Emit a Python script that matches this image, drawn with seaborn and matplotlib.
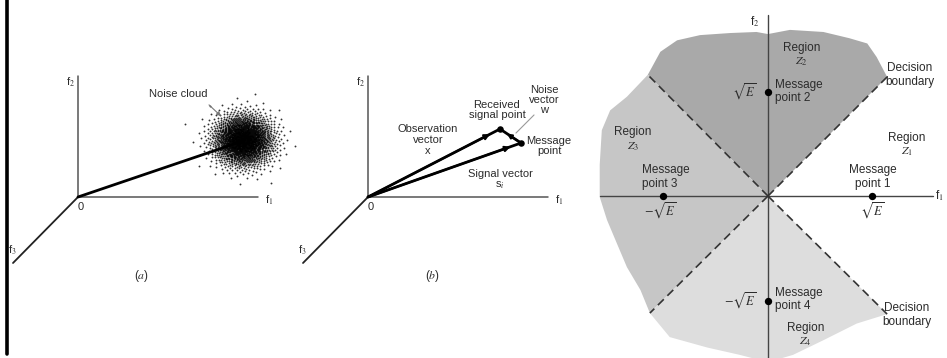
import numpy as np
import pandas as pd
import seaborn as sns
import matplotlib.pyplot as plt
from matplotlib.patches import Polygon

sns.set_style('white')
plt.rcParams['font.family'] = ['Liberation Sans', 'DejaVu Sans']
plt.rcParams['mathtext.fontset'] = 'stix'

TXT = '#2b2b2b'
AXC = '#555555'

# ---------------- panels (a) and (b): pixel coordinates ----------------
origin_a = (78, 197)
origin_b = (368, 197)
f1_len = 180          # length of f1 axis
f2_top = 76           # top of f2 axis
f3_end = (-65, 66)    # offset of f3 axis end from origin

cloud_center = (243, 140)
cloud_spread = (15, 13)
cloud_n = 2000

received_pt = (500, 129)
message_pt = (521, 143)

# ---------------- right panel: units of sqrt(E) ----------------
msg_u = [1, 0, -1, 0]
msg_v = [0, 1, 0, -1]

# ends of the dashed decision boundaries
bnd_u = [1.14, -1.15, -1.13, 1.14]
bnd_v = [1.14, 1.16, -1.12, -1.13]

# outline of the shaded area
top_u = [-1.15, -1.03, -0.87, -0.65, -0.36, -0.11, 0.0, 0.21, 0.53, 0.78, 0.95, 1.04, 1.14]
top_v = [1.16, 1.38, 1.49, 1.54, 1.56, 1.57, 1.55, 1.59, 1.57, 1.51, 1.46, 1.33, 1.14]
left_u = [-1.15, -1.35, -1.51, -1.59, -1.61, -1.61, -1.54, -1.46, -1.35, -1.22, -1.13]
left_v = [1.16, 0.95, 0.82, 0.63, 0.30, -0.01, -0.23, -0.42, -0.68, -0.90, -1.12]
bot_u = [-1.13, -0.94, -0.58, -0.27, 0.0, 0.24, 0.53, 0.85, 1.14]
bot_v = [-1.12, -1.35, -1.45, -1.52, -1.59, -1.52, -1.38, -1.22, -1.13]

region_colors = {'Z2': '#a9a9a9', 'Z3': '#c6c6c6', 'Z4': '#dddddd'}

W, H = 947, 358
fig = plt.figure(figsize=(W / 100, H / 100), dpi=100)
ax = fig.add_axes([0, 0, 1, 1])
ax.set_xlim(0, W)
ax.set_ylim(H, 0)
ax.axis('off')

# frame line at the left edge
ax.plot([7, 7], [0, 354], color='black', lw=2.6)


def draw_axes(o):
    ox, oy = o
    ax.plot([ox, ox + f1_len], [oy, oy], color=AXC, lw=1.1)
    ax.plot([ox, ox], [oy, f2_top], color=AXC, lw=1.1)
    ax.plot([ox, ox + f3_end[0]], [oy, oy + f3_end[1]], color='#222222', lw=1.3)
    ax.text(ox + f1_len + 11, oy + 3, 'f$_1$', fontsize=8, color=TXT, ha='center', va='center')
    ax.text(ox - 8, f2_top + 6, 'f$_2$', fontsize=8, color=TXT, ha='center', va='center')
    ax.text(ox + f3_end[0] - 1, oy + f3_end[1] - 13, 'f$_3$', fontsize=8, color=TXT, ha='center', va='center')
    ax.text(ox + 3, oy + 10, '0', fontsize=8, color=TXT, ha='center', va='center')


draw_axes(origin_a)
draw_axes(origin_b)

# ---- panel (a): noise cloud (a stipple texture around its centre) ----
i = np.arange(cloud_n)
rad = np.sqrt(-2 * np.log(1 - (i + 0.5) / cloud_n))
ang = i * np.pi * (3 - np.sqrt(5))
cloud = pd.DataFrame({
    'x': cloud_center[0] + cloud_spread[0] * rad * np.cos(ang),
    'y': cloud_center[1] + cloud_spread[1] * rad * np.sin(ang),
})
sns.scatterplot(data=cloud, x='x', y='y', ax=ax, s=1.8, color='black',
                linewidth=0, alpha=0.8, legend=False)
ax.plot([origin_a[0], cloud_center[0]], [origin_a[1], cloud_center[1] + 1],
        color='black', lw=2)
ax.text(178, 94, 'Noise cloud', fontsize=8, color=TXT, ha='center', va='center')
ax.annotate('', xy=(223, 118), xytext=(207, 103),
            arrowprops=dict(arrowstyle='-|>', color='#777777', lw=0.8, mutation_scale=6))
ax.text(142, 276, '($a$)', fontsize=8.5, color=TXT, ha='center', va='center')

# ---- panel (b): signal, observation and noise vectors ----
pts = pd.DataFrame({'x': [received_pt[0], message_pt[0]],
                    'y': [received_pt[1], message_pt[1]]})
for end in (received_pt, message_pt):
    ax.plot([origin_b[0], end[0]], [origin_b[1], end[1]], color='black', lw=2)
    ax.annotate('', xy=end, xytext=origin_b,
                arrowprops=dict(arrowstyle='-|>', color='black', lw=1.5,
                                mutation_scale=8, shrinkA=0, shrinkB=8))
ax.plot([message_pt[0], received_pt[0]], [message_pt[1], received_pt[1]], color='black', lw=2)
ax.annotate('', xy=received_pt, xytext=message_pt,
            arrowprops=dict(arrowstyle='-|>', color='black', lw=1.4,
                            mutation_scale=7, shrinkA=0, shrinkB=6))
sns.scatterplot(data=pts, x='x', y='y', ax=ax, s=22, color='black', linewidth=0, legend=False)
ax.annotate('', xy=(514, 135), xytext=(536, 113),
            arrowprops=dict(arrowstyle='-', color='#999999', lw=0.8))

ax.text(428, 140, 'Observation\nvector\nx', fontsize=8, color=TXT, ha='center', va='center', linespacing=1.1)
ax.text(497, 110, 'Received\nsignal point', fontsize=8, color=TXT, ha='center', va='center', linespacing=1.1)
ax.text(544, 100, 'Noise\nvector\nw', fontsize=8, color=TXT, ha='center', va='center', linespacing=1.05)
ax.text(549, 146, 'Message\npoint', fontsize=8, color=TXT, ha='center', va='center', linespacing=1.1)
ax.text(500, 180, 'Signal vector\ns$_i$', fontsize=8, color=TXT, ha='center', va='center', linespacing=1.1)
ax.text(432, 276, '($b$)', fontsize=8.5, color=TXT, ha='center', va='center')

# ---------------- right panel ----------------
axr = fig.add_axes([590 / W, 0, 357 / W, 1])
axr.set_xlim(-1.703, 1.713)
axr.set_ylim(-1.550, 1.876)
axr.axis('off')

z2 = [(0, 0)] + list(zip(top_u, top_v))
z3 = [(0, 0)] + list(zip(left_u[::-1], left_v[::-1]))
z4 = [(0, 0)] + list(zip(bot_u, bot_v))
for poly, key in [(z2, 'Z2'), (z3, 'Z3'), (z4, 'Z4')]:
    axr.add_patch(Polygon(poly, closed=True, facecolor=region_colors[key],
                          edgecolor='none', zorder=1))

for u, v in zip(bnd_u, bnd_v):
    axr.plot([0, u], [0, v], color='#333333', lw=1.2, ls=(0, (5, 3)), zorder=3)

axr.plot([-1.61, 1.58], [0, 0], color='#444444', lw=1.0, zorder=2)
axr.plot([0, 0], [-1.7, 1.73], color='#444444', lw=1.0, zorder=2)
axr.text(1.60, 0.0, 'f$_1$', fontsize=8.5, color=TXT, ha='left', va='center')
axr.text(-0.13, 1.67, 'f$_2$', fontsize=8.5, color=TXT, ha='center', va='center')

msg = pd.DataFrame({'u': msg_u, 'v': msg_v})
sns.scatterplot(data=msg, x='u', y='v', ax=axr, s=28, color='black',
                linewidth=0, legend=False, zorder=4)

FS = 8.5
kw = dict(fontsize=FS, color=TXT, va='center', linespacing=1.2, zorder=5)
axr.text(0.32, 1.35, 'Region\n$Z_2$', ha='center', **kw)
axr.text(0.07, 1.0, 'Message\npoint 2', ha='left', **kw)
axr.text(-0.11, 1.0, r'$\sqrt{E}$', ha='right', fontsize=9, color=TXT, va='center')
axr.text(1.36, 1.16, 'Decision\nboundary', ha='center', **kw)
axr.text(1.33, 0.49, 'Region\n$Z_1$', ha='center', **kw)
axr.text(1.0, 0.18, 'Message\npoint 1', ha='center', **kw)
axr.text(1.0, -0.14, r'$\sqrt{E}$', ha='center', fontsize=9, color=TXT, va='center')
axr.text(-1.29, 0.54, 'Region\n$Z_3$', ha='center', **kw)
axr.text(-1.21, 0.18, 'Message\npoint 3', ha='left', **kw)
axr.text(-1.03, -0.14, r'$-\sqrt{E}$', ha='center', fontsize=9, color=TXT, va='center')
axr.text(-0.11, -1.0, r'$-\sqrt{E}$', ha='right', fontsize=9, color=TXT, va='center')
axr.text(0.07, -0.99, 'Message\npoint 4', ha='left', **kw)
axr.text(0.36, -1.33, 'Region\n$Z_4$', ha='center', **kw)
axr.text(1.33, -1.14, 'Decision\nboundary', ha='center', **kw)

fig.savefig('out.png', dpi=100)
